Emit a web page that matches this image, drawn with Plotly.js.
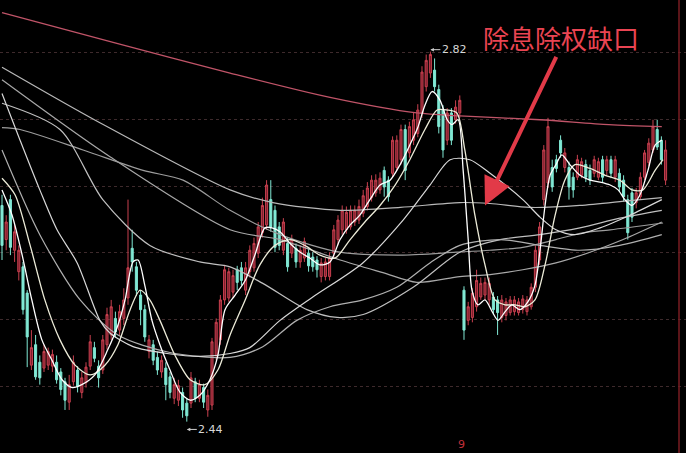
<!DOCTYPE html>
<html><head><meta charset="utf-8">
<script src="https://cdn.plot.ly/plotly-3.0.1.min.js"></script>
<style>html,body{margin:0;padding:0;background:#000;}#chart{width:686px;height:453px;}</style>
</head><body><div id="chart"></div>
<script>
// OHLC candles (price)
const openP = [2.662,2.627,2.668,2.616,2.594,2.599,2.572,2.498,2.519,2.501,2.495,2.498,2.497,2.501,2.491,2.481,2.460,2.481,2.493,2.470,
2.480,2.497,2.516,2.497,2.493,2.519,2.529,2.546,2.534,2.546,2.567,2.618,2.599,2.570,2.555,2.512,2.519,2.506,2.491,2.495,
2.486,2.464,2.462,2.470,2.459,2.459,2.481,2.464,2.475,2.452,2.457,2.508,2.524,2.565,2.567,2.573,2.596,2.598,2.575,2.594,
2.598,2.613,2.634,2.642,2.668,2.657,2.640,2.616,2.623,2.613,2.618,2.604,2.608,2.613,2.609,2.606,2.589,2.589,2.589,2.613,
2.627,2.637,2.637,2.640,2.645,2.647,2.654,2.661,2.670,2.675,2.678,2.698,2.688,2.695,2.701,2.709,2.740,2.716,2.729,2.736,
2.757,2.784,2.798,2.801,2.781,2.760,2.729,2.757,2.750,2.757,2.575,2.544,2.547,2.558,2.568,2.570,2.565,2.568,2.565,2.547,
2.549,2.552,2.553,2.552,2.555,2.553,2.558,2.578,2.606,2.668,2.685,2.701,2.709,2.729,2.701,2.701,2.691,2.691,2.693,2.704,
2.698,2.695,2.691,2.709,2.698,2.709,2.691,2.695,2.688,2.668,2.675,2.665,2.671,2.691,2.706,2.719,2.740,2.729,2.688];
const highP = [2.673,2.652,2.673,2.642,2.621,2.604,2.575,2.534,2.529,2.508,2.519,2.516,2.514,2.508,2.495,2.485,2.488,2.508,2.497,2.491,
2.501,2.529,2.522,2.503,2.529,2.557,2.565,2.553,2.560,2.577,2.668,2.637,2.604,2.575,2.560,2.529,2.524,2.512,2.508,2.501,
2.491,2.485,2.483,2.475,2.464,2.491,2.485,2.483,2.479,2.473,2.526,2.546,2.570,2.601,2.598,2.596,2.600,2.604,2.604,2.621,
2.629,2.645,2.670,2.688,2.688,2.662,2.645,2.649,2.629,2.632,2.623,2.621,2.629,2.618,2.614,2.610,2.608,2.608,2.614,2.642,
2.652,2.662,2.661,2.662,2.662,2.668,2.678,2.686,2.693,2.694,2.696,2.702,2.692,2.733,2.734,2.745,2.745,2.748,2.758,2.766,
2.805,2.817,2.820,2.813,2.786,2.765,2.762,2.762,2.770,2.775,2.579,2.563,2.577,2.596,2.588,2.588,2.588,2.573,2.569,2.570,
2.567,2.569,2.569,2.567,2.570,2.569,2.582,2.621,2.645,2.724,2.752,2.709,2.714,2.734,2.721,2.707,2.696,2.714,2.711,2.709,
2.704,2.713,2.711,2.713,2.713,2.713,2.713,2.700,2.693,2.673,2.680,2.680,2.696,2.719,2.731,2.750,2.750,2.733,2.729];
const lowP = [2.606,2.616,2.611,2.604,2.585,2.550,2.496,2.493,2.483,2.478,2.491,2.493,2.491,2.479,2.467,2.452,2.452,2.477,2.470,2.464,
2.475,2.493,2.501,2.475,2.489,2.514,2.524,2.526,2.529,2.539,2.560,2.594,2.569,2.539,2.522,2.505,2.498,2.488,2.485,2.462,
2.464,2.458,2.456,2.444,2.440,2.454,2.460,2.460,2.454,2.445,2.452,2.503,2.519,2.560,2.563,2.567,2.575,2.580,2.570,2.588,
2.594,2.608,2.629,2.637,2.635,2.614,2.616,2.611,2.594,2.608,2.598,2.598,2.604,2.594,2.594,2.588,2.583,2.585,2.585,2.608,
2.621,2.632,2.633,2.637,2.641,2.643,2.650,2.657,2.666,2.671,2.674,2.671,2.666,2.691,2.698,2.704,2.688,2.711,2.724,2.732,
2.752,2.779,2.793,2.779,2.736,2.711,2.724,2.724,2.746,2.752,2.524,2.539,2.542,2.553,2.565,2.565,2.560,2.550,2.529,2.542,
2.544,2.549,2.549,2.549,2.551,2.549,2.555,2.573,2.601,2.662,2.680,2.676,2.696,2.711,2.696,2.668,2.670,2.688,2.690,2.686,
2.683,2.691,2.688,2.686,2.693,2.690,2.686,2.676,2.666,2.627,2.645,2.659,2.668,2.688,2.702,2.716,2.719,2.704,2.683];
const closeP = [2.621,2.645,2.619,2.635,2.616,2.555,2.527,2.516,2.486,2.485,2.512,2.512,2.509,2.483,2.473,2.462,2.478,2.501,2.476,2.485,
2.496,2.522,2.505,2.485,2.524,2.550,2.558,2.532,2.553,2.565,2.598,2.604,2.575,2.555,2.527,2.524,2.503,2.493,2.503,2.478,
2.470,2.478,2.477,2.452,2.446,2.485,2.464,2.478,2.460,2.467,2.522,2.542,2.565,2.596,2.594,2.590,2.583,2.585,2.598,2.616,
2.623,2.640,2.662,2.683,2.640,2.619,2.621,2.645,2.599,2.627,2.604,2.616,2.625,2.600,2.599,2.596,2.603,2.604,2.608,2.637,
2.647,2.657,2.655,2.657,2.657,2.661,2.672,2.680,2.688,2.688,2.690,2.681,2.671,2.729,2.729,2.740,2.698,2.743,2.750,2.760,
2.799,2.811,2.817,2.784,2.743,2.719,2.757,2.729,2.763,2.770,2.534,2.558,2.572,2.585,2.582,2.583,2.582,2.555,2.552,2.565,
2.563,2.565,2.565,2.563,2.566,2.565,2.578,2.616,2.640,2.719,2.743,2.681,2.700,2.716,2.716,2.681,2.678,2.709,2.707,2.691,
2.688,2.709,2.707,2.691,2.709,2.695,2.709,2.681,2.671,2.634,2.650,2.675,2.691,2.716,2.726,2.743,2.722,2.709,2.719];

// Moving average lines, read at sample positions (candle index, price)
const ma5X = [0,2.4,4.8,7.1,9.5,11.9,14.3,16.7,19,22.1,25.2,27.6,29.3,31.2,32.4,34,35.7,37.6,40,42.4,44.8,47.1,49.5,51.4,53.1,55.5,57.9,60.2,62.6,64.3,66.2,68.6,71,73.3,75.7,78.1,80.5,82.9,85.2,87.6,90,92.4,94.8,97.1,99,100.7,102.4,104.3,106,107.1,108.6,109.8,111,111.9,113.3,115,116.7,118.1,119.8,121.4,123.3,125.2,126.9,128.1,129.3,130.5,131.9,133.3,135.2,137.6,140,142.4,144.8,146.7,148.3,150,151.9,153.8,155.5,157.1];
const ma5Y = [2.678,2.652,2.611,2.565,2.524,2.503,2.483,2.475,2.478,2.488,2.514,2.539,2.565,2.604,2.606,2.580,2.544,2.519,2.493,2.470,2.462,2.467,2.483,2.508,2.555,2.570,2.585,2.611,2.639,2.639,2.635,2.623,2.614,2.608,2.601,2.604,2.627,2.642,2.652,2.668,2.683,2.688,2.704,2.724,2.742,2.765,2.779,2.770,2.750,2.745,2.750,2.698,2.627,2.575,2.560,2.565,2.553,2.544,2.553,2.560,2.555,2.563,2.580,2.616,2.662,2.693,2.704,2.714,2.704,2.693,2.688,2.686,2.683,2.678,2.668,2.662,2.673,2.698,2.724,2.729];
const ma10X = [0,3.1,6.7,10.2,13.8,17.4,21,24.5,27.6,30.5,32.9,35.2,37.6,41.2,44.8,48.3,51.4,54.3,57.9,61.4,65,68.6,72.1,75.7,79.3,82.9,86.4,90,93.6,97.1,100.7,103.6,106,108.3,110.2,112.6,115,117.4,119.8,122.1,124.5,126.9,129.3,131.7,134,136.4,140,143.6,147.1,150,152.6,155.5,157.4];
const ma10Y = [2.690,2.673,2.621,2.565,2.524,2.498,2.488,2.498,2.519,2.555,2.575,2.565,2.544,2.508,2.483,2.478,2.493,2.529,2.565,2.601,2.621,2.627,2.621,2.611,2.608,2.627,2.645,2.662,2.683,2.709,2.740,2.760,2.760,2.757,2.719,2.652,2.601,2.565,2.560,2.560,2.558,2.565,2.601,2.652,2.688,2.704,2.700,2.693,2.688,2.678,2.678,2.698,2.709];
const ma20X = [0,4.3,9,13.1,17.9,23.3,25.7,31.2,39.3,47.1,54.3,59,66.2,74,85.9,95.5,101.9,106.7,111.4,116.2,124,128.1,131.9,136.4,142.4,149.5,157.1];
const ma20Y = [2.777,2.729,2.678,2.637,2.603,2.544,2.531,2.517,2.510,2.507,2.510,2.516,2.544,2.568,2.603,2.647,2.683,2.709,2.709,2.695,2.668,2.650,2.637,2.632,2.639,2.652,2.668];
const ma30X = [0,9,18.6,27.6,40,54.3,62.1,70.2,78.1,85.9,94,101.9,109,118.6,128.1,137.6,147.1,157.1];
const ma30Y = [2.719,2.632,2.565,2.529,2.511,2.506,2.517,2.544,2.558,2.565,2.578,2.603,2.621,2.627,2.621,2.616,2.621,2.632];
const ma60X = [0,13.8,24,35.2,47.1,54.3,62.1,72.6,79.8,86,97.9,109,118.6,128.1,137.6,147.1,157.1];
const ma60Y = [2.767,2.740,2.668,2.621,2.604,2.599,2.582,2.555,2.547,2.550,2.578,2.614,2.627,2.632,2.639,2.649,2.657];
const ma90X = [0,4.3,19.3,33.6,43.1,54.3,66.2,80.5,94.8,108.1,116.2,124,131.9,138.3,144.8,157.4];
const ma90Y = [2.742,2.740,2.719,2.698,2.688,2.657,2.632,2.614,2.611,2.614,2.616,2.619,2.627,2.634,2.637,2.644];
const ma120X = [0,25.7,54.3,66.2,80.5,90.7,98.8,109,116.2,124,131.9,140,147.9,157.1];
const ma120Y = [2.791,2.712,2.637,2.627,2.606,2.593,2.583,2.589,2.591,2.596,2.603,2.614,2.627,2.645];
const ma150X = [0,23.3,54.3,64.5,80.5,94.8,109,116.2,125.7,137.6,149.5,157.1];
const ma150Y = [2.804,2.747,2.678,2.665,2.657,2.660,2.665,2.664,2.660,2.662,2.667,2.670];
const ma250X = [0,26.9,54.3,78.1,98.8,109,128.1,144.5,157.1];
const ma250Y = [2.860,2.829,2.798,2.773,2.757,2.754,2.750,2.745,2.743];

const highIdx = 102, highVal = 2.82, lowIdx = 44, lowVal = 2.44;
const noteText = '除息除权缺口';

const idx = openP.map((_, i) => i);
const traces = [];
const maLines = [
  [ma250X, ma250Y, '#c05468', 1.3],
  [ma150X, ma150Y, '#b8b8b8', 1.2],
  [ma120X, ma120Y, '#a8a8a8', 1.2],
  [ma90X, ma90Y, '#9c9c9c', 1.2],
  [ma60X, ma60Y, '#c0c0c0', 1.2],
  [ma30X, ma30Y, '#b0b0b0', 1.2],
  [ma20X, ma20Y, '#d8d8d8', 1.2],
];
maLines.forEach(m => traces.push({type:'scatter', mode:'lines', x:m[0], y:m[1],
  line:{color:m[2], width:m[3], shape:'spline', smoothing:0.8}, hoverinfo:'skip'}));
traces.push({type:'candlestick', x: idx, open: openP, high: highP, low: lowP, close: closeP,
  increasing:{line:{color:'#c8404f', width:1}, fillcolor:'#7a1c2a'},
  decreasing:{line:{color:'#80e8d4', width:1}, fillcolor:'#80e8d4'},
  whiskerwidth:0, hoverinfo:'skip'});
traces.push({type:'scatter', mode:'lines', x:ma10X, y:ma10Y, line:{color:'#ecebd8', width:1.3, shape:'spline', smoothing:0.8}, hoverinfo:'skip'});
traces.push({type:'scatter', mode:'lines', x:ma5X, y:ma5Y, line:{color:'#ffffff', width:1.3, shape:'spline', smoothing:0.8}, hoverinfo:'skip'});

const layout = {
  width:686, height:453, margin:{l:0,r:0,t:0,b:0},
  paper_bgcolor:'#000', plot_bgcolor:'#000', showlegend:false,
  xaxis:{range:[-0.476,162.86], showgrid:false, zeroline:false, showticklabels:false, ticks:'', showline:false, rangeslider:{visible:false}, fixedrange:true},
  yaxis:{range:[2.4078,2.873], showgrid:true, griddash:'dot', gridcolor:'#3e2a2c', gridwidth:1, tick0:2.8186, dtick:0.0684,
         zeroline:false, showticklabels:false, ticks:'', showline:false, fixedrange:true},
  shapes:[{type:'line', xref:'paper', yref:'paper', x0:0.9898, x1:0.9898, y0:0, y1:1, line:{color:'#7a1c22', width:1.5}}],
  annotations:[
    {x:highIdx, y:highVal+0.002, text:String(highVal.toFixed(2)), showarrow:true, ax:24, ay:0, arrowhead:2, arrowsize:0.7, arrowwidth:1, arrowcolor:'#cfcfcf',
     font:{family:'DejaVu Sans, sans-serif', size:11, color:'#d8d8d8'}},
    {x:lowIdx, y:lowVal-0.008, text:String(lowVal.toFixed(2)), showarrow:true, ax:24, ay:0, arrowhead:2, arrowsize:0.7, arrowwidth:1, arrowcolor:'#cfcfcf',
     font:{family:'DejaVu Sans, sans-serif', size:11, color:'#d8d8d8'}},
    {x:115, y:2.662, text:'', showarrow:true, ax:72, ay:-150, arrowhead:2, arrowsize:1.4, arrowwidth:4, arrowcolor:'#e23a48'},
    {xref:'paper', yref:'paper', x:561/686, y:1-38/453, xanchor:'center', yanchor:'middle', text:noteText, showarrow:false,
     font:{family:'Noto Sans CJK SC, sans-serif', size:26, color:'#ea4452'}},
    {xref:'paper', yref:'paper', x:461/686, y:1-444/453, xanchor:'center', yanchor:'middle', text:'9', showarrow:false,
     font:{family:'DejaVu Sans, sans-serif', size:11, color:'#c0303a'}}
  ]
};
Plotly.newPlot('chart', traces, layout, {staticPlot:true, displayModeBar:false});
</script></body></html>
